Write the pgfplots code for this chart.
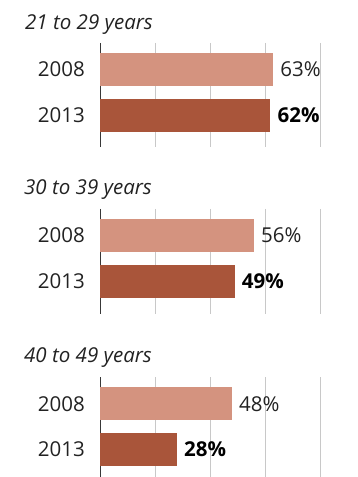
\documentclass[border=0pt]{standalone}
\usepackage{pgfplots}
\pgfplotsset{compat=1.18}
\usepackage{fontspec}
\setmainfont{Open Sans}
\definecolor{lightbar}{HTML}{D4937F}
\definecolor{darkbar}{HTML}{A9553A}
\definecolor{txt}{HTML}{222222}
\definecolor{gridc}{HTML}{C8C8C8}
\newcommand{\lblfont}{\fontsize{20.5}{22}\selectfont}
\pgfplotsset{
  panel/.style={
    xbar, scale only axis, width=220pt,
    xmin=0, xmax=80, y dir=reverse,
    /pgf/number format/assume math mode=true,
    axis line style={draw=none},
    xtick={20,40,60,80}, xticklabels={}, major tick length=0pt,
    xmajorgrids, grid style={gridc, line width=0.8pt},
    extra x ticks={0}, extra x tick labels={},
    extra x tick style={grid style={txt!90, line width=1pt}},
    ytick={0,1}, yticklabels={2008,2013},
    yticklabel style={font=\lblfont, text=txt, anchor=east, inner xsep=15pt},
    bar width=33pt, bar shift=0pt,
    clip=false,
  },
  lightp/.style={fill=lightbar, draw=none,
    nodes near coords={\pgfmathprintnumber{\pgfplotspointmeta}\%},
    every node near coord/.append style={font=\lblfont, text=txt, anchor=west, inner xsep=7pt}},
  darkp/.style={fill=darkbar, draw=none,
    nodes near coords={\textbf{\pgfmathprintnumber{\pgfplotspointmeta}\%}},
    every node near coord/.append style={font=\lblfont, text=black, anchor=west, inner xsep=7pt}},
}
\begin{document}
\begin{tikzpicture}[x=1pt,y=1pt]
\path[use as bounding box] (0,0) rectangle (358,477);
% panel 1
\begin{axis}[panel, at={(100pt,330pt)}, anchor=south west, height=104pt, ymin=-0.582, ymax=1.703]
\addplot[lightp] coordinates {(63,0)};
\addplot[darkp] coordinates {(62,1)};
\end{axis}
\node[anchor=base west, font=\lblfont\itshape, text=txt, inner sep=0pt] at (25,447) {21 to 29 years};
% panel 2
\begin{axis}[panel, at={(100pt,163pt)}, anchor=south west, height=105pt, ymin=-0.582, ymax=1.725]
\addplot[lightp] coordinates {(56,0)};
\addplot[darkp] coordinates {(49,1)};
\end{axis}
\node[anchor=base west, font=\lblfont\itshape, text=txt, inner sep=0pt] at (24,282) {30 to 39 years};
% panel 3
\begin{axis}[panel, at={(100pt,0pt)}, anchor=south west, height=100pt, ymin=-0.593, ymax=1.604]
\addplot[lightp] coordinates {(48,0)};
\addplot[darkp] coordinates {(28,1)};
\end{axis}
\node[anchor=base west, font=\lblfont\itshape, text=txt, inner sep=0pt] at (24,114) {40 to 49 years};
\end{tikzpicture}
\end{document}
